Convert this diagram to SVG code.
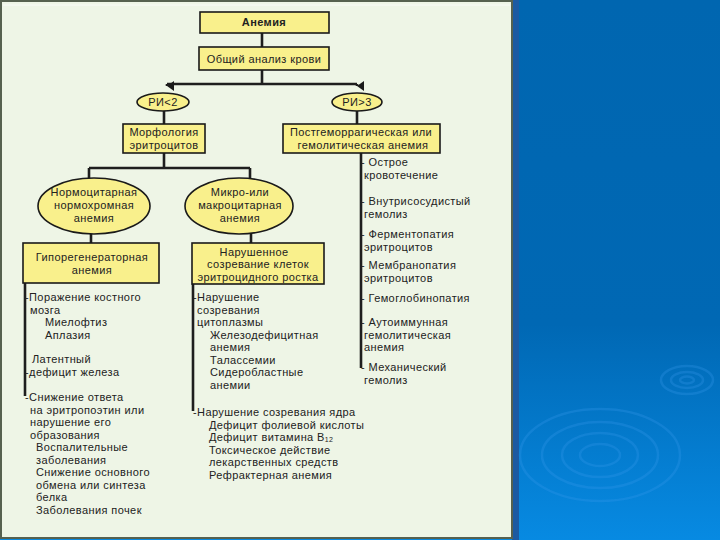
<svg xmlns="http://www.w3.org/2000/svg" width="720" height="540" viewBox="0 0 720 540">
<defs>
<linearGradient id="blue" x1="0" y1="0" x2="0" y2="1">
<stop offset="0" stop-color="#0066b0"/>
<stop offset="0.6" stop-color="#0068b4"/>
<stop offset="1" stop-color="#078ae2"/>
</linearGradient>
<marker id="arr" markerUnits="userSpaceOnUse" markerWidth="10" markerHeight="8" refX="5" refY="7" orient="auto-start-reverse" viewBox="0 0 10 8">
<path d="M0,0 L10,0 L5,7 Z" fill="#1a1a1a"/>
</marker>
<style>
.box{fill:#f9f08c;stroke:#1a1a1a;stroke-width:1.6}
.t{font-family:"Liberation Sans",Arial,sans-serif;font-size:11px;letter-spacing:0.4px;fill:#222}
.c{text-anchor:middle}
.b{font-weight:bold}
.ln{stroke:#1e1e1e;stroke-width:2.6;fill:none}
.rip{fill:none;stroke:#3a9cec;stroke-opacity:0.28;stroke-width:2.5}
</style>
</defs>
<rect x="0" y="0" width="720" height="540" fill="url(#blue)"/>
<rect x="512" y="0" width="7" height="540" fill="#1c5aa2"/>
<g id="ripple-small">
<ellipse class="rip" cx="687" cy="380" rx="26" ry="14"/>
<ellipse class="rip" cx="687" cy="380" rx="16" ry="8"/>
<ellipse class="rip" cx="687" cy="380" rx="7" ry="3.5"/>
</g>
<g id="ripple-large">
<ellipse class="rip" cx="600" cy="455" rx="80" ry="46"/>
<ellipse class="rip" cx="600" cy="455" rx="58" ry="33"/>
<ellipse class="rip" cx="600" cy="455" rx="38" ry="22"/>
<ellipse class="rip" cx="600" cy="455" rx="20" ry="11"/>
</g>
<rect x="1" y="1" width="511" height="537" fill="#eef5e6" stroke="#56614f" stroke-width="2"/>
<line x1="3" y1="5" x2="510" y2="5" stroke="#ffffff" stroke-width="1" opacity="0.7"/>

<g id="connectors">
<path class="ln" d="M262,33 V47"/>
<path class="ln" d="M262,70 V84 M167,84 H357"/>
<path class="ln" d="M167,84 V86" marker-end="url(#arr)"/>
<path class="ln" d="M357,84 V86" marker-end="url(#arr)"/>
<path class="ln" d="M164,111 V124 M357,111 V124"/>
<path class="ln" d="M164,153 V168 M89,168 H250 M89,168 V180 M250,168 V180"/>
<path class="ln" d="M91,234 V243 M251,234 V243"/>
<path class="ln" d="M25,283 V396"/>
<path class="ln" d="M193,284 V411"/>
<path class="ln" d="M361,153 V368"/>
</g>

<g id="anemia">
<rect class="box" x="200" y="12" width="129" height="21"/>
<text class="t c b" x="264" y="26">Анемия</text>
</g>
<g id="blood-test">
<rect class="box" x="199" y="47" width="130" height="23"/>
<text class="t c" x="264" y="63">Общий анализ крови</text>
</g>
<g id="ri-low">
<ellipse class="box" cx="163" cy="102" rx="26" ry="9"/>
<text class="t c" x="163" y="106">РИ&lt;2</text>
</g>
<g id="ri-high">
<ellipse class="box" cx="357" cy="102" rx="25" ry="9"/>
<text class="t c" x="357" y="106">РИ&gt;3</text>
</g>
<g id="morphology">
<rect class="box" x="123" y="124" width="82" height="29"/>
<text class="t c" x="164" y="136">Морфология</text>
<text class="t c" x="164" y="149">эритроцитов</text>
</g>
<g id="posthemorrhagic">
<rect class="box" x="283" y="124" width="157" height="29"/>
<text class="t c" x="361" y="136">Постгеморрагическая или</text>
<text class="t c" x="363" y="149">гемолитическая анемия</text>
</g>
<g id="normocytic">
<ellipse class="box" cx="94" cy="206" rx="56" ry="28"/>
<text class="t c" x="94" y="196">Нормоцитарная</text>
<text class="t c" x="94" y="209">нормохромная</text>
<text class="t c" x="94" y="222">анемия</text>
</g>
<g id="microcytic">
<ellipse class="box" cx="239" cy="206" rx="54" ry="28"/>
<text class="t c" x="240" y="196">Микро-или</text>
<text class="t c" x="240" y="209">макроцитарная</text>
<text class="t c" x="240" y="222">анемия</text>
</g>
<g id="hyporegenerative">
<rect class="box" x="23" y="243" width="136" height="40"/>
<text class="t c" x="92" y="261">Гипорегенераторная</text>
<text class="t c" x="92" y="274">анемия</text>
</g>
<g id="impaired-maturation">
<rect class="box" x="192" y="243" width="132" height="41"/>
<text class="t c" x="254" y="255.5">Нарушенное</text>
<text class="t c" x="258" y="268">созревание клеток</text>
<text class="t c" x="258" y="280.5">эритроцидного ростка</text>
</g>

<g id="left-list">
<text class="t" x="25" y="301">-Поражение костного</text>
<text class="t" x="30" y="313.5">мозга</text>
<text class="t" x="45" y="326">Миелофтиз</text>
<text class="t" x="45" y="338.5">Аплазия</text>
<text class="t" x="32" y="363">Латентный</text>
<text class="t" x="25" y="375.5">-дефицит железа</text>
<text class="t" x="25" y="401">-Снижение ответа</text>
<text class="t" x="30" y="413.5">на эритропоэтин или</text>
<text class="t" x="30" y="426">нарушение его</text>
<text class="t" x="30" y="438.5">образования</text>
<text class="t" x="36" y="451">Воспалительные</text>
<text class="t" x="36" y="463.5">заболевания</text>
<text class="t" x="36" y="476">Снижение основного</text>
<text class="t" x="36" y="488.5">обмена или синтеза</text>
<text class="t" x="36" y="501">белка</text>
<text class="t" x="36" y="513.5">Заболевания почек</text>
</g>

<g id="middle-list">
<text class="t" x="193" y="301">-Нарушение</text>
<text class="t" x="197" y="313.5">созревания</text>
<text class="t" x="197" y="326">цитоплазмы</text>
<text class="t" x="210" y="338.5">Железодефицитная</text>
<text class="t" x="210" y="351">анемия</text>
<text class="t" x="210" y="363.5">Талассемии</text>
<text class="t" x="210" y="376">Сидеробластные</text>
<text class="t" x="210" y="389">анемии</text>
<text class="t" x="193" y="416">-Нарушение созревания ядра</text>
<text class="t" x="209" y="428.5">Дефицит фолиевой кислоты</text>
<text class="t" x="209" y="441">Дефицит витамина В<tspan font-size="7" dy="1">12</tspan></text>
<text class="t" x="209" y="453.5">Токсическое действие</text>
<text class="t" x="209" y="466">лекарственных средств</text>
<text class="t" x="209" y="478.5">Рефрактерная анемия</text>
</g>

<g id="right-list">
<text class="t" x="361" y="166">- Острое</text>
<text class="t" x="364" y="179">кровотечение</text>
<text class="t" x="361" y="205">- Внутрисосудистый</text>
<text class="t" x="364" y="217.5">гемолиз</text>
<text class="t" x="361" y="238">- Ферментопатия</text>
<text class="t" x="364" y="250.5">эритроцитов</text>
<text class="t" x="361" y="269">- Мембранопатия</text>
<text class="t" x="364" y="281.5">эритроцитов</text>
<text class="t" x="361" y="302">- Гемоглобинопатия</text>
<text class="t" x="361" y="326">- Аутоиммунная</text>
<text class="t" x="364" y="338.5">гемолитическая</text>
<text class="t" x="364" y="351">анемия</text>
<text class="t" x="361" y="371">- Механический</text>
<text class="t" x="364" y="383.5">гемолиз</text>
</g>
</svg>
